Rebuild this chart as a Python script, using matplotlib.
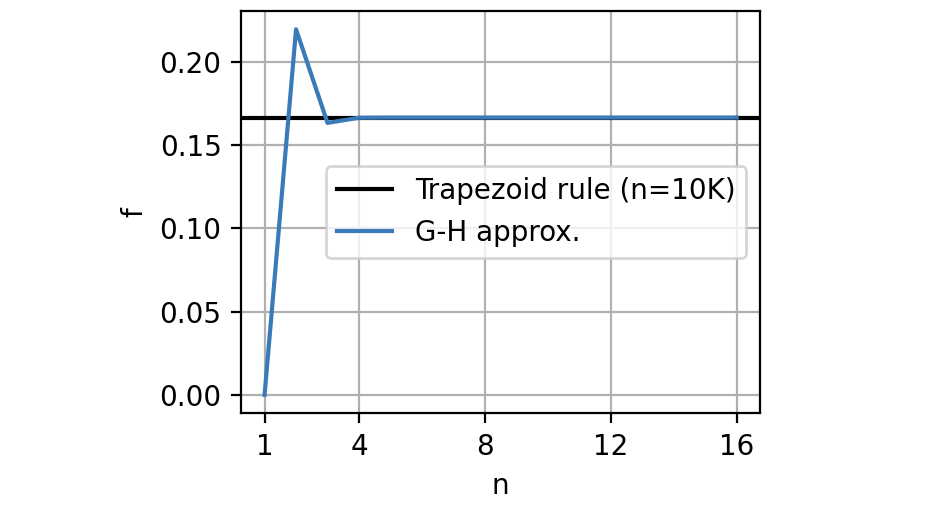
import matplotlib
matplotlib.use("Agg")
import matplotlib.pyplot as plt
import numpy as np

n = np.arange(1, 17)
gh = [0.0, 0.2195, 0.1633, 0.1664, 0.1665, 0.1665, 0.1665, 0.1665,
      0.1665, 0.1665, 0.1665, 0.1665, 0.1665, 0.1665, 0.1665, 0.1665]
trap = 0.1665
xticks = [1, 4, 8, 12, 16]

fig = plt.figure(figsize=(9.34 / 2, 5.12 / 2), dpi=200)
ax = fig.add_axes([0.258, 0.193, 0.556, 0.7855])

ax.axhline(trap, color="black", label="Trapezoid rule (n=10K)")
ax.plot(n, gh, color="#3b7ab9", label="G-H approx.")
ax.set_xticks(xticks)
ax.set_xlabel("n")
ax.set_ylabel("f")
ax.grid(True)
ax.legend(loc="center right")

fig.savefig("out.png", dpi=200)
